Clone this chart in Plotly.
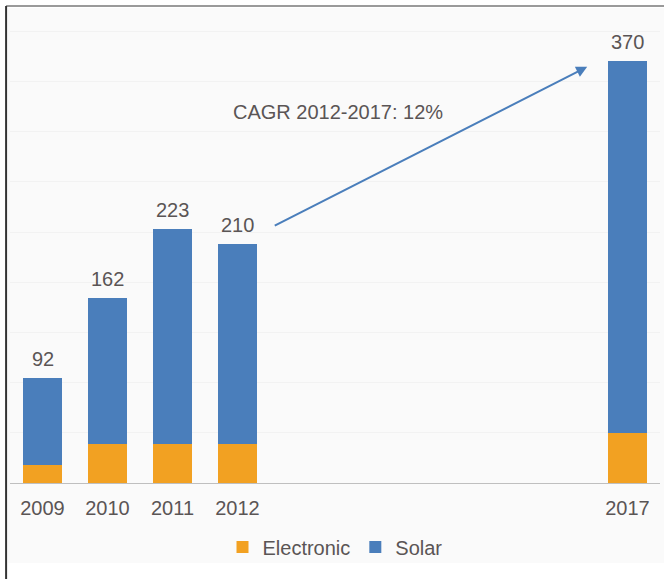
import plotly.graph_objects as go

# Sales by year, split by application
years = ["2009", "2010", "2011", "2012", "2017"]
x_pos = [0, 1, 2, 3, 9]          # 2017 sits apart from the historic years
totals = [92, 162, 223, 210, 370]
electronic = [16, 34, 34, 34, 44]
solar = [t - e for t, e in zip(totals, electronic)]
cagr_label = "CAGR 2012-2017: 12%"

BLUE = "#4a7ebb"
ORANGE = "#f2a122"
TEXT = "#5a5555"
FONT = "Liberation Sans, Arial, sans-serif"
FS = 20

fig = go.Figure()
fig.add_trace(go.Bar(x=x_pos, y=electronic, name="Electronic",
                     marker=dict(color=ORANGE, line=dict(width=0)), width=0.6))
fig.add_trace(go.Bar(x=x_pos, y=solar, name="Solar",
                     marker=dict(color=BLUE, line=dict(width=0)), width=0.6))

# total labels above each stack
for xp, t in zip(x_pos, totals):
    fig.add_annotation(x=xp, y=t, text=str(t), showarrow=False,
                       yanchor="bottom", yshift=6,
                       font=dict(size=FS, color=TEXT, family=FONT))

# growth arrow from 2012 towards 2017
fig.add_annotation(x=8.38, y=365, ax=3.55, ay=225, axref="x", ayref="y",
                   xref="x", yref="y", text="", showarrow=True,
                   arrowhead=2, arrowsize=1.1, arrowwidth=2, arrowcolor=BLUE)
fig.add_annotation(x=4.55, y=325, text=cagr_label, showarrow=False,
                   font=dict(size=FS, color=TEXT, family=FONT))

# panel background and frame
fig.add_shape(type="rect", xref="paper", yref="paper", layer="below",
              x0=-0.003, x1=1.01, y0=-0.173, y1=1.026,
              fillcolor="#fafafa", line=dict(width=0))
fig.add_shape(type="line", xref="paper", yref="paper",
              x0=-0.006, x1=1.01, y0=1.03, y1=1.03,
              line=dict(color="#9a9a9a", width=2))
fig.add_shape(type="line", xref="paper", yref="paper",
              x0=-0.006, x1=-0.006, y0=-0.22, y1=1.03,
              line=dict(color="#333333", width=2))

fig.update_layout(
    barmode="stack",
    width=664, height=579,
    margin=dict(l=10, r=4, t=20, b=96),
    paper_bgcolor="white",
    plot_bgcolor="#fafafa",
    font=dict(family=FONT, size=FS, color=TEXT),
    legend=dict(orientation="h", x=0.50, xanchor="center", y=-0.138, yanchor="middle",
                font=dict(size=FS, color=TEXT), bgcolor="rgba(0,0,0,0)",
                itemwidth=30, traceorder="normal"),
    xaxis=dict(range=[-0.5, 9.5], tickmode="array", tickvals=x_pos, ticktext=years,
               showgrid=False, zeroline=False, showline=True, linecolor="#bfbfbf",
               linewidth=1, ticks="", ticklabelstandoff=7,
               tickfont=dict(size=FS, color=TEXT)),
    yaxis=dict(range=[0, 406], dtick=44, showticklabels=False, showgrid=True,
               gridcolor="#f2f2f2", gridwidth=1, zeroline=False, showline=False),
)

fig.write_html("out.html")
